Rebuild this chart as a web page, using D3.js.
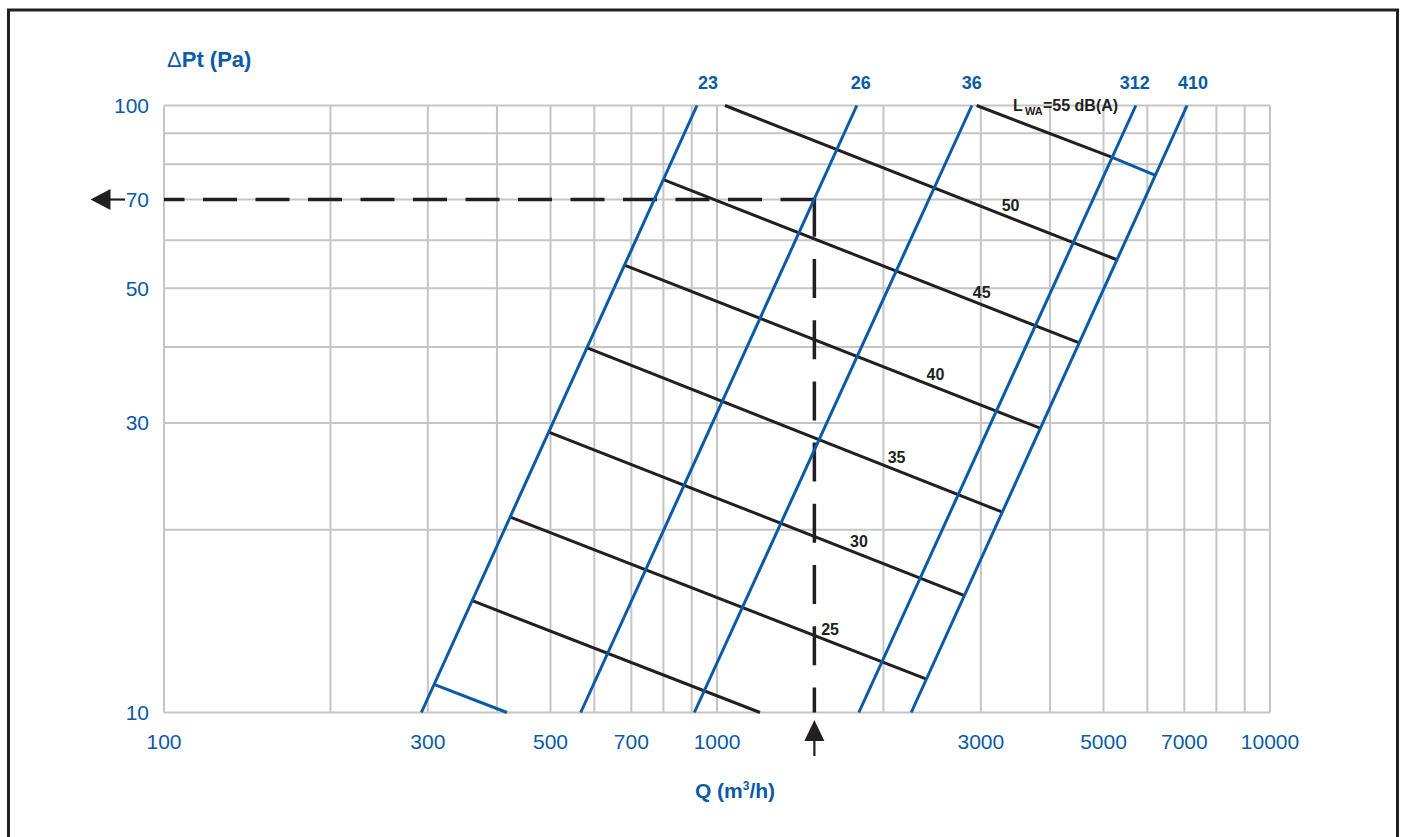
<!DOCTYPE html>
<html>
<head>
<meta charset="utf-8">
<script src="https://cdn.jsdelivr.net/npm/d3@7"></script>
<style>
  html, body { margin: 0; padding: 0; background: #fff; }
  svg { display: block; font-family: "Liberation Sans", Arial, Helvetica, sans-serif; }
</style>
</head>
<body>
<svg id="chart" width="1407" height="837"></svg>
<script>
// ---- Data -------------------------------------------------------------
// Fan curves (ΔP ∝ Q²): airflow at 10 Pa and at 100 Pa for each unit size
const deviceLabels   = ["23", "26", "36", "312", "410"];
const deviceQAt10Pa  = [292, 567, 910, 1805, 2245];
const deviceQAt100Pa = [920, 1790, 2890, 5720, 7080];

// Sound power lines L_WA (dB(A)): start and end points [Q m³/h, ΔP Pa]
const lwaLevels = [15, 20, 25, 30, 35, 40, 45, 50, 55];
const lwaStartQ = [307, 360, 422, 495, 581, 680, 802, 1034, 2948];
const lwaStartP = [11.14, 15.3, 21.0, 29.0, 39.9, 54.6, 75.4, 100, 100];
const lwaEndQ   = [417, 1196, 2386, 2796, 3275, 3839, 4533, 5287, 5158];
const lwaEndP   = [10, 10, 11.36, 15.6, 21.4, 29.4, 40.6, 55.7, 82.3];
// airflow along each line where its level is written (null = not labelled)
const lwaLabelQ = [null, null, 1601, 1806, 2112, 2484, 3011, 3395, null];
// 55 dB(A) continuation between sizes 312 and 410
const lwa55TailQ = [5158, 6194];
const lwa55TailP = [82.3, 76.8];

// Axis tick labels
const xTickLabels = [100, 300, 500, 700, 1000, 3000, 5000, 7000, 10000];
const yTickLabels = [10, 30, 50, 70, 100];

// Worked example: 1500 m³/h at 70 Pa
const readQ = 1500;
const readP = 70;

// ---- Styles -----------------------------------------------------------
const BLUE = "#0b5aa6";
const INK  = "#231f20";
const GRID = "#c5c5c8";
const deviceLabelDx = [11, 4, 0, -1, 6];
const extendedLevels = new Set([15]);

// ---- Scales -----------------------------------------------------------
const svg = d3.select("#chart");
const x = d3.scaleLog().domain([100, 10000]).range([164, 1270]);
const y = d3.scaleLog().domain([10, 100]).range([712.5, 105.5]);
const line = d3.line().x(d => x(d[0])).y(d => y(d[1]));

// Outer frame
svg.append("rect")
  .attr("x", 8.5).attr("y", 10)
  .attr("width", 1389).attr("height", 840)
  .attr("fill", "none").attr("stroke", INK).attr("stroke-width", 3);

// ---- Grid -------------------------------------------------------------
const grid = svg.append("g").attr("stroke", GRID).attr("stroke-width", 2);
grid.selectAll("line.v").data(x.ticks()).join("line")
  .attr("class", "v")
  .attr("x1", d => x(d)).attr("x2", d => x(d))
  .attr("y1", y(100)).attr("y2", y(10));
grid.selectAll("line.h").data(y.ticks()).join("line")
  .attr("class", "h")
  .attr("x1", x(100)).attr("x2", x(10000))
  .attr("y1", d => y(d)).attr("y2", d => y(d));

// ---- Tick labels ------------------------------------------------------
svg.append("g").selectAll("text").data(xTickLabels).join("text")
  .attr("x", d => x(d)).attr("y", 749)
  .attr("text-anchor", "middle")
  .attr("font-size", 21).attr("fill", BLUE)
  .text(d => d);

svg.append("g").selectAll("text").data(yTickLabels).join("text")
  .attr("x", 149).attr("y", d => y(d) + 7.5)
  .attr("text-anchor", "end")
  .attr("font-size", 21).attr("fill", BLUE)
  .text(d => d);

// Axis titles
const yTitle = svg.append("text")
  .attr("x", 167).attr("y", 67)
  .attr("font-size", 22).attr("font-weight", "bold").attr("fill", BLUE);
yTitle.append("tspan").attr("font-weight", "normal").text("Δ");
yTitle.append("tspan").text("Pt (Pa)");

const xTitle = svg.append("text")
  .attr("x", 735).attr("y", 798)
  .attr("text-anchor", "middle")
  .attr("font-size", 21).attr("font-weight", "bold").attr("fill", BLUE);
xTitle.append("tspan").text("Q (m");
xTitle.append("tspan").attr("font-size", 12).attr("dy", -8).text("3");
xTitle.append("tspan").attr("dy", 8).text("/h)");

// ---- Worked example (dashed reading lines + arrows) --------------------
svg.append("line")
  .attr("x1", x(100)).attr("x2", x(readQ))
  .attr("y1", y(readP)).attr("y2", y(readP))
  .attr("stroke", INK).attr("stroke-width", 3.5)
  .attr("stroke-dasharray", "34 18.5").attr("stroke-dashoffset", 13.5);
svg.append("line")
  .attr("x1", x(readQ)).attr("x2", x(readQ))
  .attr("y1", y(readP) - 1.75).attr("y2", y(10))
  .attr("stroke", INK).attr("stroke-width", 3.5)
  .attr("stroke-dasharray", "39 22.2");

// arrow pointing to the pressure read-out
const ay = y(readP);
svg.append("path")
  .attr("d", `M90.5,${ay} L110.5,${ay - 10.5} L110.5,${ay + 10.5} Z`)
  .attr("fill", INK);
svg.append("line")
  .attr("x1", 110).attr("x2", 125).attr("y1", ay).attr("y2", ay)
  .attr("stroke", INK).attr("stroke-width", 2.2);

// arrow pointing up at the chosen airflow
const ax = x(readQ);
svg.append("path")
  .attr("d", `M${ax},720 L${ax - 10},741 L${ax + 10},741 Z`)
  .attr("fill", INK);
svg.append("line")
  .attr("x1", ax).attr("x2", ax).attr("y1", 740).attr("y2", 756)
  .attr("stroke", INK).attr("stroke-width", 2.2);

// ---- Sound power lines ------------------------------------------------
const lwaG = svg.append("g").attr("fill", "none").attr("stroke-width", 3);
lwaLevels.forEach((lv, i) => {
  lwaG.append("path")
    .attr("d", line([[lwaStartQ[i], lwaStartP[i]], [lwaEndQ[i], lwaEndP[i]]]))
    .attr("stroke", extendedLevels.has(lv) ? BLUE : INK);
});
lwaG.append("path")
  .attr("d", line(lwa55TailQ.map((q, i) => [q, lwa55TailP[i]])))
  .attr("stroke", BLUE);

// level labels, written just above their line
function pOnLine(i, q) {
  const t = (Math.log(q) - Math.log(lwaStartQ[i])) / (Math.log(lwaEndQ[i]) - Math.log(lwaStartQ[i]));
  return Math.exp(Math.log(lwaStartP[i]) + t * (Math.log(lwaEndP[i]) - Math.log(lwaStartP[i])));
}
lwaLevels.forEach((lv, i) => {
  if (lwaLabelQ[i] == null) return;
  svg.append("text")
    .attr("x", x(lwaLabelQ[i]))
    .attr("y", y(pOnLine(i, lwaLabelQ[i])) - 7)
    .attr("text-anchor", "middle")
    .attr("font-size", 16).attr("font-weight", "bold").attr("fill", INK)
    .text(lv);
});

// L_WA = 55 dB(A) caption
const lwaTitle = svg.append("text")
  .attr("y", 110.5)
  .attr("font-size", 16).attr("font-weight", "bold").attr("fill", INK);
lwaTitle.append("tspan").attr("x", 1013).text("L");
lwaTitle.append("tspan").attr("x", 1025).attr("dy", 4.5).attr("font-size", 11).text("WA");
lwaTitle.append("tspan").attr("x", 1043).attr("dy", -4.5).text("=" + lwaLevels[lwaLevels.length - 1] + " dB(A)");

// ---- Fan curves -------------------------------------------------------
const devG = svg.append("g").attr("fill", "none").attr("stroke", BLUE).attr("stroke-width", 3);
deviceLabels.forEach((lab, i) => {
  devG.append("path")
    .attr("d", line([[deviceQAt10Pa[i], 10], [deviceQAt100Pa[i], 100]]));
  svg.append("text")
    .attr("x", x(deviceQAt100Pa[i]) + deviceLabelDx[i]).attr("y", 88.5)
    .attr("text-anchor", "middle")
    .attr("font-size", 18).attr("font-weight", "bold").attr("fill", BLUE)
    .text(lab);
});
</script>
</body>
</html>
